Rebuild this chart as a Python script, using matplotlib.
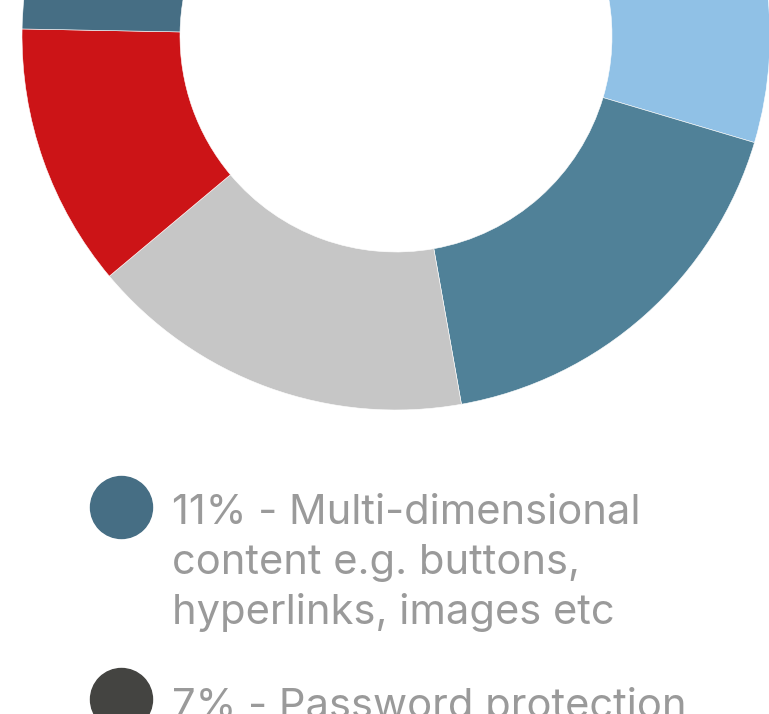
import matplotlib.pyplot as plt

# donut values (percent), clockwise from the top
shares = [29.6, 17.6, 16.7, 11.4, 11, 7, 6.7]
colors = ['#90c1e6', '#508198', '#c6c6c6', '#cc1417', '#466e84', '#444441', '#7aa7c7']

# legend entries that are visible
legend_labels = ['11% - Multi-dimensional\ncontent e.g. buttons,\nhyperlinks, images etc',
                 '7% - Password protection']
legend_colors = ['#466e84', '#444441']

W, H = 769, 714
fig = plt.figure(figsize=(W / 100, H / 100), dpi=100)

# donut: centre (396, 36) px from top-left, outer radius 374 px
cx, cy, R = 396, 36, 374
ax = fig.add_axes([(cx - R) / W, (H - cy - R) / H, 2 * R / W, 2 * R / H])
ax.pie(shares, colors=colors, startangle=90, counterclock=False, radius=1,
       wedgeprops=dict(width=(374 - 216) / 374, edgecolor='white', linewidth=0.4))
ax.set_xlim(-1, 1)
ax.set_ylim(-1, 1)
ax.set_axis_off()

# legend drawn in pixel coordinates
lax = fig.add_axes([0, 0, 1, 1])
lax.set_xlim(0, W)
lax.set_ylim(H, 0)
lax.set_axis_off()

marker_y = [507, 699]
text_base = [524, 718]
for lab, col, my, ty in zip(legend_labels, legend_colors, marker_y, text_base):
    lax.scatter([121], [my], s=(62 * 0.72) ** 2, color=col, zorder=3)
    for i, line in enumerate(lab.split('\n')):
        lax.text(172, ty + i * 50, line, fontsize=30, color='#9a9a9a',
                 family='Inter', va='baseline', ha='left')

fig.savefig('out.png', dpi=100)
